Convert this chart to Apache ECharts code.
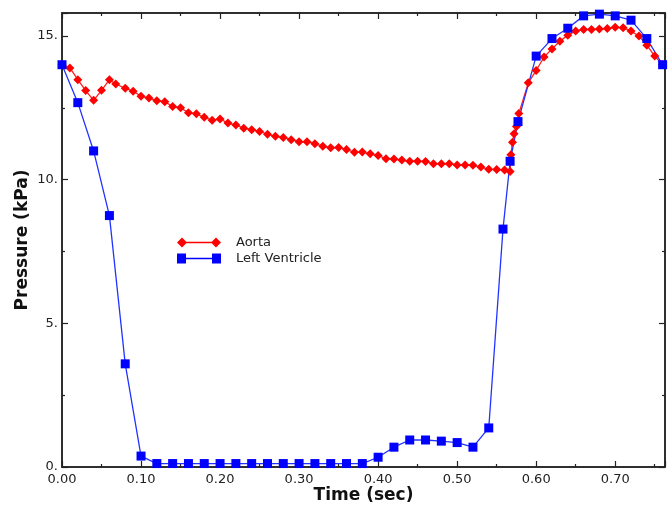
<!DOCTYPE html>
<html>
<head>
<meta charset="utf-8">
<script src="https://cdn.jsdelivr.net/npm/echarts@6/dist/echarts.min.js"></script>
<style>
  html, body { margin: 0; padding: 0; background: #fff; }
  #chart { width: 671px; height: 506px; }
</style>
</head>
<body>
<div id="chart"></div>
<script>
// Aorta
let timeAorta = [0.00, 0.01, 0.02, 0.03, 0.04, 0.05, 0.06, 0.068, 0.08, 0.09,
  0.10, 0.11, 0.12, 0.13, 0.14, 0.15, 0.16, 0.17, 0.18, 0.19,
  0.20, 0.21, 0.22, 0.23, 0.24, 0.25, 0.26, 0.27, 0.28, 0.29,
  0.30, 0.31, 0.32, 0.33, 0.34, 0.35, 0.36, 0.37, 0.38, 0.39,
  0.40, 0.41, 0.42, 0.43, 0.44, 0.45, 0.46, 0.47, 0.48, 0.49,
  0.50, 0.51, 0.52, 0.53, 0.54, 0.55, 0.56, 0.567, 0.568, 0.570,
  0.572, 0.575, 0.578, 0.59, 0.60, 0.61, 0.62, 0.63, 0.64, 0.65,
  0.66, 0.67, 0.68, 0.69, 0.70, 0.71, 0.72, 0.73, 0.74, 0.75, 0.76];
let pressureAorta = [14.0, 13.89, 13.48, 13.1, 12.76, 13.11, 13.48, 13.33, 13.18, 13.08,
  12.9, 12.84, 12.75, 12.71, 12.55, 12.5, 12.33, 12.29, 12.17, 12.07,
  12.11, 11.97, 11.9, 11.79, 11.74, 11.68, 11.58, 11.51, 11.47, 11.39,
  11.32, 11.32, 11.25, 11.16, 11.11, 11.12, 11.05, 10.95, 10.96, 10.9,
  10.84, 10.73, 10.72, 10.68, 10.64, 10.64, 10.63, 10.55, 10.55, 10.55,
  10.51, 10.51, 10.5, 10.44, 10.36, 10.35, 10.34, 10.28, 10.87, 11.3,
  11.6, 11.85, 12.3, 13.37, 13.8, 14.27, 14.55, 14.82, 15.03, 15.17,
  15.23, 15.23, 15.24, 15.26, 15.3, 15.29, 15.17, 15.0, 14.68, 14.3, 14.0];

// Left Ventricle
let timeLV = [0.00, 0.02, 0.04, 0.06, 0.08, 0.10, 0.12, 0.14, 0.16, 0.18,
  0.20, 0.22, 0.24, 0.26, 0.28, 0.30, 0.32, 0.34, 0.36, 0.38,
  0.40, 0.42, 0.44, 0.46, 0.48, 0.50, 0.52, 0.54, 0.558, 0.567,
  0.577, 0.60, 0.62, 0.64, 0.66, 0.68, 0.70, 0.72, 0.74, 0.76];
let pressureLV = [14.0, 12.68, 11.0, 8.75, 3.59, 0.38, 0.12, 0.12, 0.12, 0.12,
  0.12, 0.12, 0.12, 0.12, 0.12, 0.12, 0.12, 0.12, 0.12, 0.12,
  0.34, 0.69, 0.94, 0.94, 0.9, 0.85, 0.69, 1.36, 8.28, 10.64,
  12.02, 14.3, 14.91, 15.27, 15.7, 15.76, 15.7, 15.55, 14.91, 14.0];

let xMin = 0, xMax = 0.763, xStep = 0.1;
let yMin = 0, yMax = 15.8, yStep = 5;

function pairs(xs, ys) {
    let out = [];
    for (let i = 0; i < xs.length; i++) out.push([xs[i], ys[i]]);
    return out;
}

let font = 'DejaVu Sans';
let diamondIcon = 'path://M0 5L5 0L10 5L5 10ZM5 4.3L39 4.3L39 5.7L5 5.7ZM34 5L39 0L44 5L39 10Z';
let squareIcon = 'path://M0 0L9 0L9 10L0 10ZM4 4.3L40 4.3L40 5.7L4 5.7ZM35 0L44 0L44 10L35 10Z';

let tickStyle = { inside: true, length: 6, lineStyle: { color: '#222', width: 1.2 } };
let minorStyle = { show: true, splitNumber: 2, length: 3, lineStyle: { color: '#222', width: 1.2 } };
let lineStyleAxis = { show: true, onZero: false, lineStyle: { color: '#222', width: 1.5 } };

let myChart = echarts.init(document.getElementById('chart'));
let option = {
    animation: false,
    backgroundColor: '#fff',
    grid: { left: 62, right: 6, top: 13, bottom: 39, containLabel: false, outerBoundsMode: 'none',
        show: true, borderColor: '#222', borderWidth: 1.5, backgroundColor: 'transparent' },
    legend: {
        orient: 'vertical',
        left: 172,
        top: 231,
        itemWidth: 44,
        itemHeight: 10,
        itemGap: 3,
        textStyle: { fontFamily: font, fontSize: 13, color: '#222', padding: [0, 0, 0, 10] },
        data: [
            { name: 'Aorta', icon: diamondIcon },
            { name: 'Left Ventricle', icon: squareIcon }
        ]
    },
    xAxis: [{
        type: 'value', min: xMin, max: xMax, interval: xStep,
        name: 'Time (sec)', nameLocation: 'middle', nameGap: 20, nameMoveOverlap: false,
        nameTextStyle: { fontFamily: font, fontSize: 17, fontWeight: 'bold', color: '#111' },
        axisLine: lineStyleAxis, axisTick: tickStyle, minorTick: minorStyle,
        splitLine: { show: false },
        axisLabel: {
            fontFamily: font, fontSize: 13, color: '#222', margin: 6,
            formatter: function (v) {
                let k = Math.round(v / xStep);
                return Math.abs(v - k * xStep) < 1e-6 ? v.toFixed(2) : '';
            }
        }
    }, {
        type: 'value', position: 'top', min: xMin, max: xMax, interval: xStep,
        axisLine: lineStyleAxis, axisTick: tickStyle, minorTick: minorStyle,
        axisLabel: { show: false }, splitLine: { show: false }
    }],
    yAxis: [{
        type: 'value', min: yMin, max: yMax, interval: yStep,
        name: 'Pressure (kPa)', nameLocation: 'middle', nameGap: 31, nameMoveOverlap: false,
        nameTextStyle: { fontFamily: font, fontSize: 17, fontWeight: 'bold', color: '#111' },
        axisLine: lineStyleAxis, axisTick: tickStyle, minorTick: minorStyle,
        splitLine: { show: false },
        axisLabel: {
            fontFamily: font, fontSize: 13, color: '#222', margin: 4,
            formatter: function (v) {
                return v % yStep === 0 ? v + '.' : '';
            }
        }
    }, {
        type: 'value', position: 'right', min: yMin, max: yMax, interval: yStep,
        axisLine: lineStyleAxis, axisTick: tickStyle, minorTick: minorStyle,
        axisLabel: { show: false }, splitLine: { show: false }
    }],
    series: [{
        name: 'Aorta',
        type: 'line',
        data: pairs(timeAorta, pressureAorta),
        symbol: 'diamond',
        symbolSize: 9,
        showAllSymbol: true,
        color: '#ff0000',
        lineStyle: { color: '#ff2020', width: 1.3 },
        itemStyle: { color: '#ff0000' }
    }, {
        name: 'Left Ventricle',
        type: 'line',
        data: pairs(timeLV, pressureLV),
        symbol: 'rect',
        symbolSize: 9,
        showAllSymbol: true,
        color: '#0000ff',
        lineStyle: { color: '#2233ff', width: 1.3 },
        itemStyle: { color: '#0000ff' }
    }, {
        // binds the mirror axes on top and right so their ticks are drawn
        name: 'mirror',
        type: 'line',
        xAxisIndex: 1,
        yAxisIndex: 1,
        data: [[xMin, yMin]],
        showSymbol: false,
        silent: true,
        lineStyle: { opacity: 0 }
    }]
};
myChart.setOption(option);
</script>
</body>
</html>
